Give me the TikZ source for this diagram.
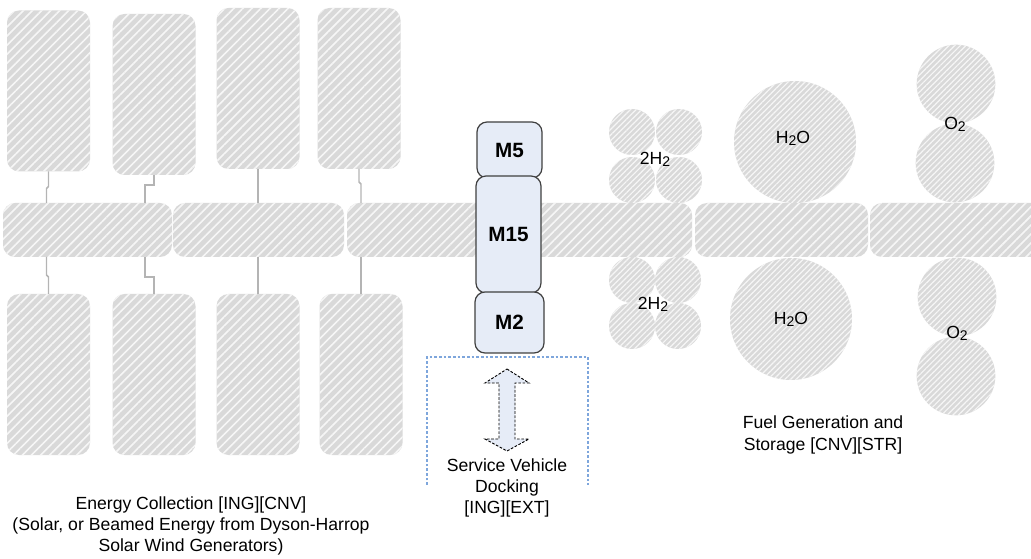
\documentclass[tikz,border=0pt]{standalone}
\usepackage{fontspec}
\setmainfont{Liberation Sans}
\usetikzlibrary{patterns.meta,calc}
\definecolor{hatchbg}{HTML}{D9D9D9}
\definecolor{hatchln}{HTML}{F6F6F6}
\definecolor{connc}{HTML}{B4B4B4}
\definecolor{modfill}{HTML}{E6ECF7}
\definecolor{modline}{HTML}{404040}
\definecolor{dockc}{HTML}{7EA6DC}
\tikzset{
  hatchbig/.style={preaction={fill=hatchbg}, pattern={Lines[angle=45,distance=4.8pt,line width=1.2pt]}, pattern color=hatchln},
  hatchsmall/.style={preaction={fill=hatchbg}, pattern={Lines[angle=45,distance=3pt,line width=0.9pt]}, pattern color=hatchln},
  panel/.style={hatchbig, rectangle, rounded corners=9pt, inner sep=0pt, outer sep=0pt, minimum width=62.25pt, minimum height=120.75pt},
  busbar/.style={hatchbig, rectangle, rounded corners=9pt, inner sep=0pt, outer sep=0pt, minimum height=40.5pt, minimum width=#1},
  tank/.style={hatchsmall, circle, inner sep=0pt, outer sep=0pt, minimum size=#1},
  conn/.style={draw=connc, line width=1.1pt},
  module/.style={draw=modline, fill=modfill, line width=0.9pt, rectangle, rounded corners=7.5pt, inner sep=0pt, minimum width=#1, font=\fontsize{15.5}{18}\selectfont\bfseries},
  lbl/.style={font=\fontsize{13.2}{15.75}\selectfont, align=center, inner sep=0pt},
  chem/.style={font=\fontsize{13.2}{15.75}\selectfont, inner sep=0pt},
}
\newcommand{\sbt}[1]{\raisebox{-0.2ex}{\fontsize{10.5}{12}\selectfont #1}}
\begin{document}
\begin{tikzpicture}[x=0.75pt,y=-0.75pt]
\useasboundingbox (0,0) rectangle (1031,559);
\begin{scope}
\clip (0,0) rectangle (1031,559);
% bus bars
\node[busbar=126.75pt] (bar1) at (87.5,230) {};
\node[busbar=128.25pt] (bar2) at (258.5,230) {};
\node[busbar=258.75pt] (bar3) at (519.5,230) {};
\node[busbar=129.75pt] (bar4) at (781.5,230) {};
\node[busbar=142.5pt] (bar5) at (965,230) {};
\end{scope}
% panels top
\node[panel] (p1) at (48.5,91) {};
\node[panel] (p2) at (154,94.5) {};
\node[panel] (p3) at (258,88.5) {};
\node[panel] (p4) at (359,88.5) {};
% panels bottom
\node[panel] (q1) at (48.5,374.5) {};
\node[panel] (q2) at (154,374.5) {};
\node[panel] (q3) at (258,374.5) {};
\node[panel] (q4) at (361,374.5) {};
% connectors top
\draw[conn] (p1.south) -- ++(0,15) -- ++(-2,2) coordinate (j1) -- (j1 |- bar1.north);
\draw[conn] (p2.south) -- ++(0,10) -- ++(-9,0) coordinate (j2) -- (j2 |- bar1.north);
\draw[conn] (p3.south) -- (p3.south |- bar2.north);
\draw[conn] (p4.south) -- ++(0,13) -- ++(2,2) coordinate (j4) -- (j4 |- bar3.north);
% connectors bottom
\draw[conn] (q1.north) -- ++(0,-17) -- ++(-2,-2) coordinate (k1) -- (k1 |- bar1.south);
\draw[conn] (q2.north) -- ++(0,-17) -- ++(-9,0) coordinate (k2) -- (k2 |- bar1.south);
\draw[conn] (q3.north) -- (q3.north |- bar2.south);
\draw[conn] (q4.north) -- ++(0,-17) -- ++(0,-1) coordinate (k4) -- (k4 |- bar3.south);
% tanks
\node[tank=34.5pt] (h1a) at (632,132) {};
\node[tank=34.5pt] (h1b) at (679,132) {};
\node[tank=34.5pt] (h1c) at (632,180) {};
\node[tank=34.5pt] (h1d) at (679,180) {};
\node[tank=34.5pt] (h2a) at (632,280) {};
\node[tank=34.5pt] (h2b) at (678,280) {};
\node[tank=34.5pt] (h2c) at (632,326) {};
\node[tank=34.5pt] (h2d) at (678,326) {};
\node[tank=91.5pt] (w1) at (795,142) {};
\node[tank=91.5pt] (w2) at (791,319) {};
\node[tank=59pt] (o1a) at (956,84) {};
\node[tank=59pt] (o1b) at (955,163) {};
\node[tank=59pt] (o2a) at (957,297) {};
\node[tank=59pt] (o2b) at (956,376) {};
% chem labels
\node[chem] (l1) at (655,159) {2H\sbt{2}};
\node[chem] (l2) at (653,304) {2H\sbt{2}};
\node[chem] (l3) at (793,138) {H\sbt{2}O};
\node[chem] (l4) at (791,319) {H\sbt{2}O};
\node[chem] (l5) at (955,124) {O\sbt{2}};
\node[chem] (l6) at (957,333) {O\sbt{2}};
% modules
\node[module=48.75pt, minimum height=42pt] (m5) at (509.5,150) {M5};
\node[module=48.75pt, minimum height=87.75pt] (m15) at (508.5,234.5) {M15};
\node[module=51.75pt, minimum height=45.75pt] (m2) at (509.5,322.5) {M2};
% docking area
\draw[dockc, line width=0.8pt, dash pattern=on 2pt off 1.5pt] (427,485) -- (427,357) -- (588,357) -- (588,485);
\draw[black, fill=modfill, line width=0.7pt, dash pattern=on 2pt off 1.2pt]
  (507,369) -- (529,383) -- (515,383) -- (515,439) -- (529,439) -- (507,451)
  -- (485,439) -- (499,439) -- (499,383) -- (485,383) -- cycle;
% texts
\node[lbl] (tdock) at (507,488) {Service Vehicle\\Docking\\{[ING][EXT]}};
\node[lbl] (tenergy) at (191,526) {Energy Collection [ING][CNV]\\(Solar, or Beamed Energy from Dyson-Harrop\\Solar Wind Generators)};
\node[lbl, font=\fontsize{13.2}{16.5}\selectfont] (tfuel) at (823,435) {Fuel Generation and\\Storage [CNV][STR]};
\end{tikzpicture}
\end{document}
